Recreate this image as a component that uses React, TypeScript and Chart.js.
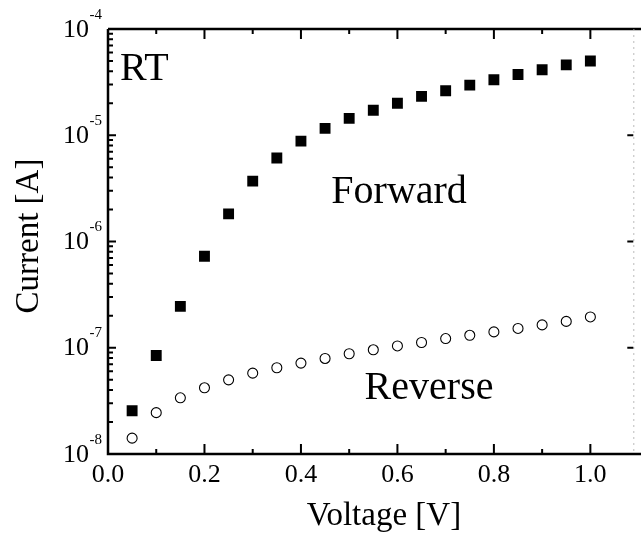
import React, { useEffect, useRef } from "react";
import { Chart, registerables } from "chart.js";

Chart.register(...registerables);

const voltage = [0.05, 0.1, 0.15, 0.2, 0.25, 0.3, 0.35, 0.4, 0.45, 0.5, 0.55, 0.6, 0.65, 0.7, 0.75, 0.8, 0.85, 0.9, 0.95, 1.0];
const forwardCurrent = [2.55e-8, 8.46e-8, 2.45e-7, 7.27e-7, 1.82e-6, 3.7e-6, 6.1e-6, 8.8e-6, 1.16e-5, 1.44e-5, 1.72e-5, 2.0e-5, 2.32e-5, 2.62e-5, 2.96e-5, 3.33e-5, 3.73e-5, 4.13e-5, 4.6e-5, 5.0e-5];
const reverseCurrent = [1.41e-8, 2.45e-8, 3.38e-8, 4.2e-8, 4.99e-8, 5.77e-8, 6.48e-8, 7.17e-8, 7.93e-8, 8.78e-8, 9.57e-8, 1.04e-7, 1.12e-7, 1.22e-7, 1.31e-7, 1.41e-7, 1.52e-7, 1.64e-7, 1.77e-7, 1.95e-7];
const xTickValues = [0.0, 0.2, 0.4, 0.6, 0.8, 1.0];
const xMinorTickValues = [0.1, 0.3, 0.5, 0.7, 0.9];
const yDecadeExponents = [-8, -7, -6, -5, -4];
const xTitle = "Voltage [V]";
const yTitle = "Current [A]";
const annotations = [
  { text: "RT", x: 0.025, y: 3.3e-5 },
  { text: "Forward", x: 0.463, y: 2.3e-6 },
  { text: "Reverse", x: 0.532, y: 3.3e-8 },
];

const SERIF = "'Liberation Serif', 'Times New Roman', serif";

const framePlugin = {
  id: "frame",
  afterDatasetsDraw(chart: any) {
    const ctx = chart.ctx;
    const xs = chart.scales.x;
    const ys = chart.scales.y;
    const { left, right, top, bottom } = chart.chartArea;
    ctx.save();
    ctx.fillStyle = "#000";
    ctx.strokeStyle = "#000";

    // axis lines
    ctx.lineWidth = 2.5;
    ctx.beginPath();
    ctx.moveTo(left, top);
    ctx.lineTo(641, top);
    ctx.moveTo(left, top);
    ctx.lineTo(left, bottom);
    ctx.lineTo(641, bottom);
    ctx.stroke();
    // right edge (cropped, faint)
    ctx.save();
    ctx.strokeStyle = "#bbb";
    ctx.lineWidth = 1;
    ctx.setLineDash([2, 4]);
    ctx.beginPath();
    ctx.moveTo(right + 0.5, top);
    ctx.lineTo(right + 0.5, bottom);
    ctx.stroke();
    ctx.restore();

    // x ticks
    ctx.lineWidth = 2;
    ctx.beginPath();
    xTickValues.forEach((v) => {
      const px = xs.getPixelForValue(v);
      ctx.moveTo(px, bottom);
      ctx.lineTo(px, bottom - 10);
      ctx.moveTo(px, top);
      ctx.lineTo(px, top + 10);
    });
    xMinorTickValues.forEach((v) => {
      const px = xs.getPixelForValue(v);
      ctx.moveTo(px, bottom);
      ctx.lineTo(px, bottom - 5);
      ctx.moveTo(px, top);
      ctx.lineTo(px, top + 5);
    });
    // y ticks
    yDecadeExponents.forEach((e, i) => {
      const py = ys.getPixelForValue(Math.pow(10, e));
      ctx.moveTo(left, py);
      ctx.lineTo(left + 8, py);
      ctx.moveTo(right, py);
      ctx.lineTo(right - 6, py);
      if (i < yDecadeExponents.length - 1) {
        for (let m = 2; m <= 9; m++) {
          const pm = ys.getPixelForValue(m * Math.pow(10, e));
          ctx.moveTo(left, pm);
          ctx.lineTo(left + 5, pm);
        }
      }
    });
    ctx.stroke();

    // x tick labels
    ctx.font = `26px ${SERIF}`;
    ctx.textAlign = "center";
    ctx.textBaseline = "alphabetic";
    xTickValues.forEach((v) => {
      ctx.fillText(v.toFixed(1), xs.getPixelForValue(v), 482);
    });

    // y tick labels 10^e
    yDecadeExponents.forEach((e) => {
      const py = ys.getPixelForValue(Math.pow(10, e));
      ctx.font = `26px ${SERIF}`;
      ctx.textAlign = "right";
      ctx.fillText("10", 89, py + 7.5);
      ctx.font = `15px ${SERIF}`;
      ctx.textAlign = "left";
      ctx.fillText(String(e), 89.5, py - 10.5);
    });

    // axis titles
    ctx.font = `33px ${SERIF}`;
    ctx.textAlign = "center";
    ctx.fillText(xTitle, 384, 525);
    ctx.save();
    ctx.translate(38, 236);
    ctx.rotate(-Math.PI / 2);
    ctx.fillText(yTitle, 0, 0);
    ctx.restore();

    // annotations
    ctx.font = `40px ${SERIF}`;
    ctx.textAlign = "left";
    annotations.forEach((a) => {
      ctx.fillText(a.text, xs.getPixelForValue(a.x), ys.getPixelForValue(a.y));
    });
    ctx.restore();
  },
};

export default function App() {
  const ref = useRef<HTMLCanvasElement>(null);
  useEffect(() => {
    if (!ref.current) return;
    const chart = new Chart(ref.current, {
      type: "scatter",
      data: {
        datasets: [
          {
            label: "Forward",
            data: voltage.map((v, i) => ({ x: v, y: forwardCurrent[i] })),
            pointStyle: "rect",
            pointRadius: 7.7,
            backgroundColor: "#000",
            borderColor: "#000",
            borderWidth: 0,
            showLine: false,
          },
          {
            label: "Reverse",
            data: voltage.map((v, i) => ({ x: v, y: reverseCurrent[i] })),
            pointStyle: "circle",
            pointRadius: 5,
            backgroundColor: "#fff",
            borderColor: "#000",
            borderWidth: 1.1,
            showLine: false,
          },
        ],
      },
      options: {
        responsive: false,
        animation: false,
        events: [],
        layout: { padding: { top: 29, right: 1, left: 0, bottom: 0 } },
        plugins: { legend: { display: false }, tooltip: { enabled: false } },
        scales: {
          x: {
            type: "linear",
            min: 0,
            max: 1.089,
            ticks: { display: false },
            grid: { display: false },
            border: { display: false },
            afterFit: (s: any) => {
              s.height = 89;
            },
          },
          y: {
            type: "logarithmic",
            min: 1e-8,
            max: 1e-4,
            ticks: { display: false },
            grid: { display: false },
            border: { display: false },
            afterFit: (s: any) => {
              s.width = 108;
            },
          },
        },
      },
      plugins: [framePlugin],
    });
    return () => chart.destroy();
  }, []);
  return (
    <div style={{ position: "fixed", left: 0, top: 0, width: 641, height: 543, background: "#fff" }}>
      <canvas ref={ref} width={641} height={543} style={{ display: "block" }} />
    </div>
  );
}
